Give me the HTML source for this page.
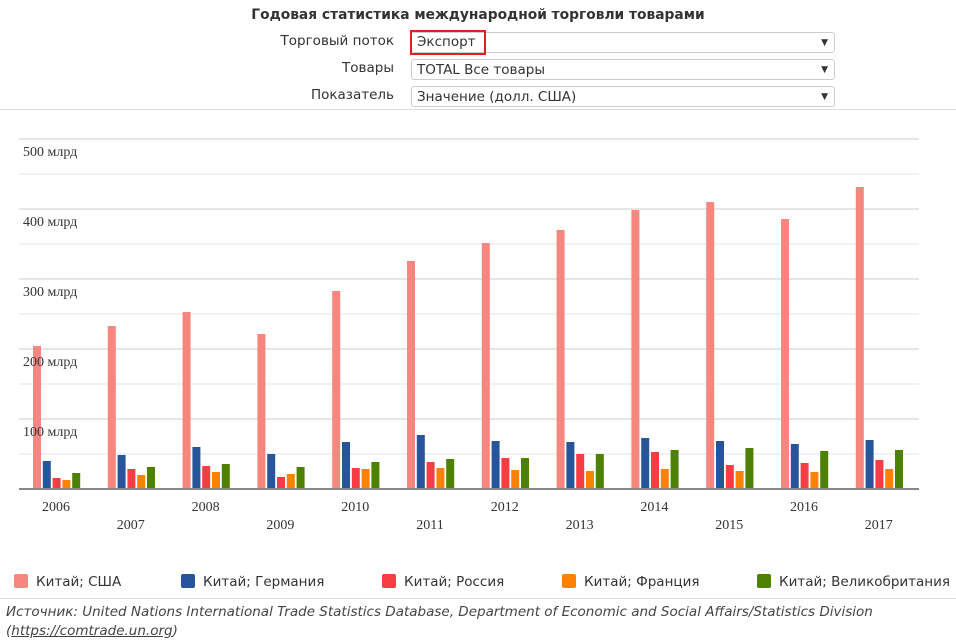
<!DOCTYPE html>
<html><head><meta charset="utf-8"><style>
body{margin:0;width:956px;height:643px;background:#fff;font-family:"DejaVu Sans",sans-serif;position:relative;overflow:hidden;color:#333}
.t{position:absolute;white-space:nowrap}
.sel{position:absolute;left:411px;width:424px;height:21px;border:1px solid #ccc;border-radius:3px;font-size:13.5px;line-height:21px;padding-left:5px;box-sizing:border-box;color:#333}
.sel:after{content:"▼";position:absolute;right:6px;top:0;font-size:9px}
.lab{position:absolute;right:562px;font-size:13.5px;color:#333}
.lg{position:absolute;top:574px;font-size:13.5px;color:#333;white-space:nowrap}
.lg i{display:inline-block;width:14px;height:14px;border-radius:2px;vertical-align:-2px;margin-right:8px}
</style></head><body>
<div class="t" style="left:0;width:956px;text-align:center;top:7px;font-weight:bold;font-size:13.8px;color:#333">Годовая статистика международной торговли товарами</div>
<div class="lab" style="top:33px">Торговый поток</div>
<div class="lab" style="top:60px">Товары</div>
<div class="lab" style="top:87px">Показатель</div>
<div class="sel" style="top:32px"></div>
<div style="position:absolute;left:410px;top:30px;width:76px;height:25px;border:2px solid #e02020;box-sizing:border-box;font-size:13.5px;line-height:21px;padding-left:5px">Экспорт</div>
<div class="sel" style="top:59px">TOTAL Все товары</div>
<div class="sel" style="top:86px">Значение (долл. США)</div>
<div style="position:absolute;left:0;top:109px;width:956px;height:1px;background:#ddd"></div>
<svg width="956" height="643" style="position:absolute;left:0;top:0" font-family="Liberation Serif,serif">
<g stroke="#ccc" stroke-width="1">
<line x1="19" x2="919" y1="139" y2="139"/><line x1="19" x2="919" y1="174" y2="174" stroke="#e6e6e6"/>
<line x1="19" x2="919" y1="209" y2="209"/><line x1="19" x2="919" y1="244" y2="244" stroke="#e6e6e6"/>
<line x1="19" x2="919" y1="279" y2="279"/><line x1="19" x2="919" y1="314" y2="314" stroke="#e6e6e6"/>
<line x1="19" x2="919" y1="349" y2="349"/><line x1="19" x2="919" y1="384" y2="384" stroke="#e6e6e6"/>
<line x1="19" x2="919" y1="419" y2="419"/><line x1="19" x2="919" y1="454" y2="454" stroke="#e6e6e6"/>
</g>
<g id="bars"></g>
<line x1="19" x2="919" y1="489" y2="489" stroke="#888" stroke-width="2"/>
<g font-size="14" fill="#333">
<text x="23" y="156">500 млрд</text><text x="23" y="226">400 млрд</text><text x="23" y="296">300 млрд</text><text x="23" y="366">200 млрд</text><text x="23" y="436">100 млрд</text>
</g>
<g font-size="14" fill="#333" text-anchor="middle" id="yrs"></g>
</svg>
<div class="lg" style="left:14px"><i style="background:#f7877e"></i>Китай; США</div>
<div class="lg" style="left:181px"><i style="background:#27549a"></i>Китай; Германия</div>
<div class="lg" style="left:382px"><i style="background:#f73d44"></i>Китай; Россия</div>
<div class="lg" style="left:562px"><i style="background:#fd8204"></i>Китай; Франция</div>
<div class="lg" style="left:757px"><i style="background:#4e8100"></i>Китай; Великобритания</div>
<div style="position:absolute;left:0;top:598px;width:956px;height:1px;background:#ddd"></div>
<div class="t" style="top:603px;left:6px;font-size:13.5px;font-style:italic;color:#444;line-height:19px">Источник: United Nations International Trade Statistics Database, Department of Economic and Social Affairs/Statistics Division<br>(<u>https://comtrade.un.org</u>)</div>
<script>
var tops=[[346,326,312,334,291,261,243,230,210,202,219,187],[461,455,447,454,442,435,441,442,438,441,444,440],[478,469,466,477,468,462,458,454,452,465,463,460],[480,475,472,474,469,468,470,471,469,471,472,469],[473,467,464,467,462,459,458,454,450,448,451,450]];
var cols=["#f7877e","#27549a","#f73d44","#fd8204","#4e8100"];
var s='',y='';
for(var i=0;i<12;i++){var x0=33+i*74.8;
for(var k=0;k<5;k++){s+='<rect x="'+(x0+k*9.8)+'" y="'+tops[k][i]+'" width="8" height="'+(489-tops[k][i])+'" fill="'+cols[k]+'"/>';}
y+='<text x="'+(x0+23)+'" y="'+(i%2?529:511)+'">'+(2006+i)+'</text>';}
document.getElementById('bars').innerHTML=s;document.getElementById('yrs').innerHTML=y;
</script>
</body></html>
